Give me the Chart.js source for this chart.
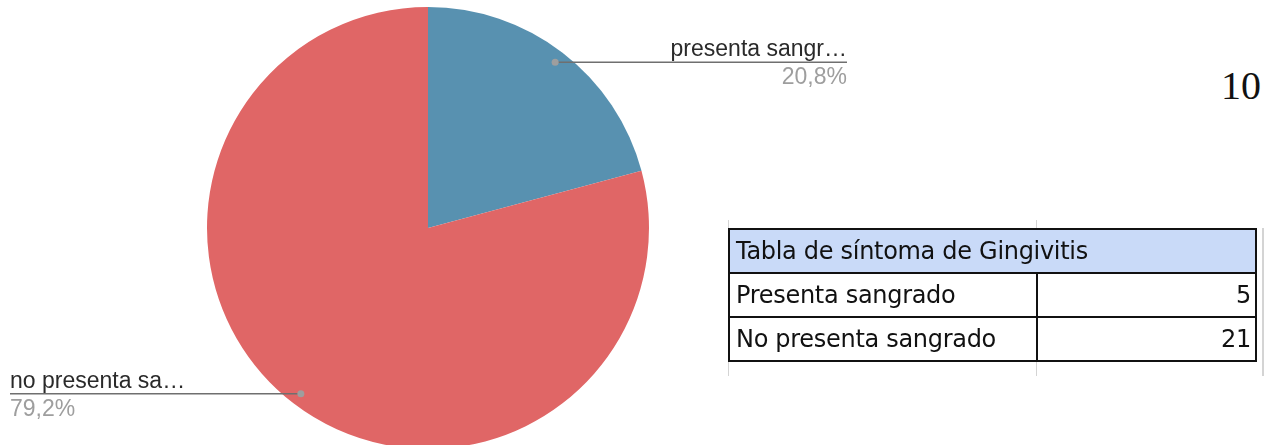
<!DOCTYPE html>
<html>
<head>
<meta charset="utf-8">
<script src="https://cdn.jsdelivr.net/npm/chart.js@4.4.0/dist/chart.umd.min.js"></script>
<style>
  body { margin: 0; width: 1277px; height: 445px; overflow: hidden; background: #fff; position: relative; }
  #wrap { position: absolute; left: 0; top: 0; width: 870px; height: 460px; }
  #pageNum { position: absolute; left: 1221px; top: 62px; font-family: "Liberation Serif", "Times New Roman", serif; font-size: 40px; color: #111; }
  table { position: absolute; left: 728px; top: 228px; border-collapse: collapse; table-layout: fixed; font-family: "DejaVu Sans", Verdana, sans-serif; font-size: 24px; letter-spacing: -0.3px; color: #111; }
  td { border: 2px solid #111; height: 42px; padding: 0 4px 0 6px; white-space: nowrap; overflow: visible; }
  td.head { background: #c9daf8; }
  td.num { text-align: right; }
  .grid { position: absolute; background: #d4d4d4; }
</style>
</head>
<body>
<div id="wrap"><canvas id="pie"></canvas></div>
<div id="pageNum">10</div>
<div class="grid" style="left:728px;top:220px;width:1px;height:10px"></div>
<div class="grid" style="left:1036px;top:220px;width:1px;height:10px"></div>
<div class="grid" style="left:728px;top:362px;width:1px;height:14px"></div>
<div class="grid" style="left:1036px;top:362px;width:1px;height:14px"></div>
<div class="grid" style="left:1262px;top:228px;width:2px;height:148px"></div>
<table id="tbl"></table>
<script>
const pieLabels = ['presenta sangr\u2026', 'no presenta sa\u2026'];
const pieValues = [5, 19];
const pieColors = ['#5891b0', '#e06666'];

const tableTitle = 'Tabla de s\u00edntoma de Gingivitis';
const tableLabels = ['Presenta sangrado', 'No presenta sangrado'];
const tableValues = [5, 21];

// build the table
const tbl = document.getElementById('tbl');
let html = '<colgroup><col style="width:308px"><col style="width:219px"></colgroup>';
html += '<tr><td class="head" colspan="2">' + tableTitle + '</td></tr>';
tableLabels.forEach((l, i) => {
  html += '<tr><td>' + l + '</td><td class="num">' + tableValues[i] + '</td></tr>';
});
tbl.innerHTML = html;

const total = pieValues.reduce((a, b) => a + b, 0);

// leader line labels, Google-Sheets style
const leaderLabels = {
  id: 'leaderLabels',
  afterDraw(chart) {
    const ctx = chart.ctx;
    const arcs = chart.getDatasetMeta(0).data;
    arcs.forEach((arc, i) => {
      const mid = (arc.startAngle + arc.endAngle) / 2;
      const r = arc.outerRadius * 0.945;
      const px = arc.x + Math.cos(mid) * r;
      const py = arc.y + Math.sin(mid) * r;
      const right = Math.cos(mid) > 0;
      const endX = right ? 847 : 10;
      ctx.save();
      ctx.strokeStyle = '#6f6f6f';
      ctx.lineWidth = 1.5;
      ctx.beginPath();
      ctx.moveTo(px, py);
      ctx.lineTo(endX, py);
      ctx.stroke();
      ctx.fillStyle = '#9e9e9e';
      ctx.beginPath();
      ctx.arc(px, py, 3.5, 0, Math.PI * 2);
      ctx.fill();
      ctx.font = '23px "Liberation Sans", Arial, sans-serif';
      ctx.textAlign = right ? 'right' : 'left';
      ctx.textBaseline = 'alphabetic';
      ctx.fillStyle = '#2a2a2a';
      ctx.fillText(pieLabels[i], endX, py - 6);
      const pct = (pieValues[i] / total * 100).toFixed(1).replace('.', ',') + '%';
      ctx.fillStyle = '#9e9e9e';
      ctx.fillText(pct, endX, py + 22);
      ctx.restore();
    });
  }
};

new Chart(document.getElementById('pie'), {
  type: 'pie',
  data: {
    labels: pieLabels,
    datasets: [{
      data: pieValues,
      backgroundColor: pieColors,
      borderWidth: 0
    }]
  },
  options: {
    responsive: true,
    maintainAspectRatio: false,
    animation: false,
    layout: { padding: { left: 207, right: 221, top: 7, bottom: 11 } },
    plugins: {
      legend: { display: false },
      tooltip: { enabled: false }
    }
  },
  plugins: [leaderLabels]
});
</script>
</body>
</html>
